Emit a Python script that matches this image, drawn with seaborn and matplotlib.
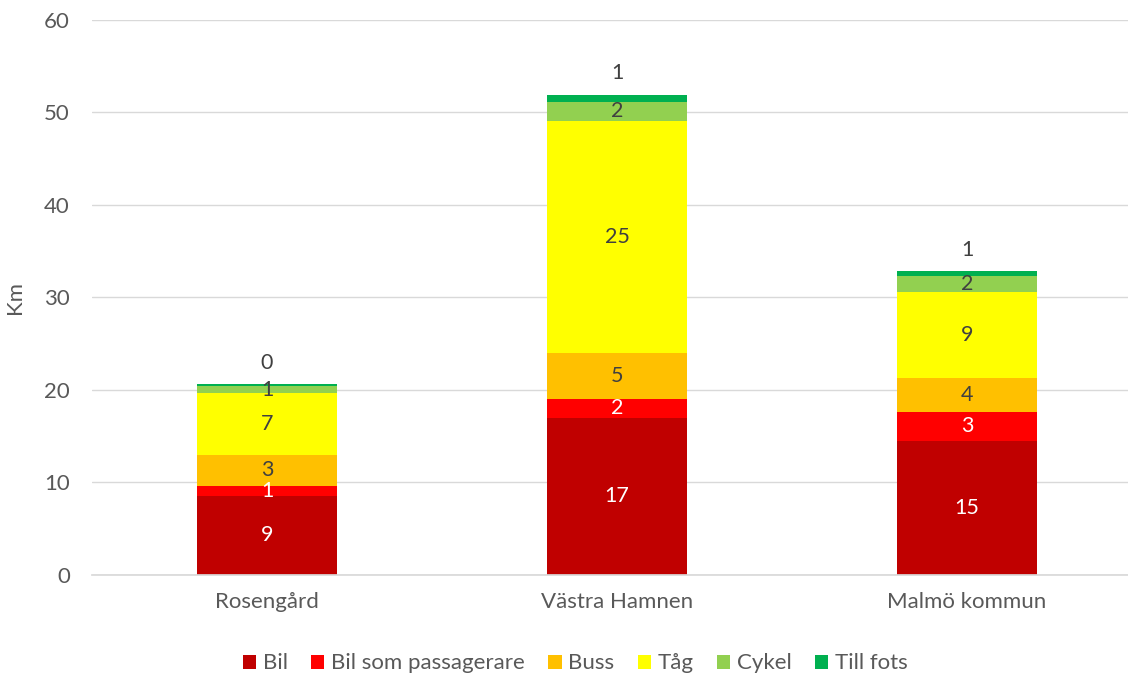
import matplotlib
matplotlib.use("Agg")
import matplotlib.pyplot as plt
from matplotlib.patches import Patch
import seaborn as sns
import pandas as pd

# data (km per färdsätt)
omraden = ["Rosengård", "Västra Hamnen", "Malmö kommun"]
fardsatt = ["Bil", "Bil som passagerare", "Buss", "Tåg", "Cykel", "Till fots"]
bil = [8.56, 17.02, 14.53]
bil_pass = [1.08, 2.01, 3.09]
buss = [3.38, 4.96, 3.71]
tag = [6.65, 25.11, 9.24]
cykel = [0.76, 2.05, 1.70]
till_fots = [0.21, 0.79, 0.54]
farger = ["#C00000", "#FF0000", "#FFC000", "#FFFF00", "#92D050", "#00B050"]
etikett_farg = ["white", "white", "#404040", "#404040", "#404040", "#404040"]

varden = [bil, bil_pass, buss, tag, cykel, till_fots]
df = pd.DataFrame(dict(zip(fardsatt, varden)), index=omraden)
kum = df.cumsum(axis=1)

sns.set_theme(style="white")
plt.rcParams["font.family"] = ["Lato", "DejaVu Sans"]

fig, ax = plt.subplots(figsize=(11.28, 6.77), dpi=100)
# diagramytan fortsätter förbi högerkanten som i originalet
fig.subplots_adjust(left=0.0816, right=1.0124, top=0.9705, bottom=0.1507)

""" Staplade staplar: rita kumulativa summor bakifrån """
for i in reversed(range(len(fardsatt))):
    sns.barplot(x=omraden, y=kum[fardsatt[i]].values, color=farger[i],
                width=0.4, saturation=1, ax=ax, linewidth=0)

""" Etiketter i segmenten """
for j, omr in enumerate(omraden):
    for i, fs in enumerate(fardsatt):
        v = df.loc[omr, fs]
        topp = kum.loc[omr, fs]
        if fs == "Till fots":
            y = topp + 2.3
        else:
            y = topp - v / 2
        ax.text(j, y, f"{v:.0f}", ha="center", va="center",
                fontsize=15.5, color=etikett_farg[i])

ax.set_ylim(0, 60)
ax.set_yticks(range(0, 61, 10))
ax.set_xlim(-0.5, 2.5)
ax.yaxis.grid(True, color="#D9D9D9", linewidth=1)
ax.set_axisbelow(True)
for s in ["top", "right", "left"]:
    ax.spines[s].set_visible(False)
ax.spines["bottom"].set_color("#D9D9D9")
ax.tick_params(axis="both", length=0, labelsize=16, colors="#595959")
ax.tick_params(axis="x", pad=12)
ax.tick_params(axis="y", pad=16)
ax.set_ylabel("Km", fontsize=16, color="#595959", labelpad=14)
ax.set_xlabel("")

handles = [Patch(facecolor=c, edgecolor="none") for c in farger]
fig.legend(handles, fardsatt, loc="center", ncol=6, frameon=False,
           bbox_to_anchor=(0.51, 0.02), fontsize=16, labelcolor="#595959",
           handlelength=0.6, handleheight=0.6, handletextpad=0.3, columnspacing=1.05)

plt.savefig("out.png", dpi=100)
